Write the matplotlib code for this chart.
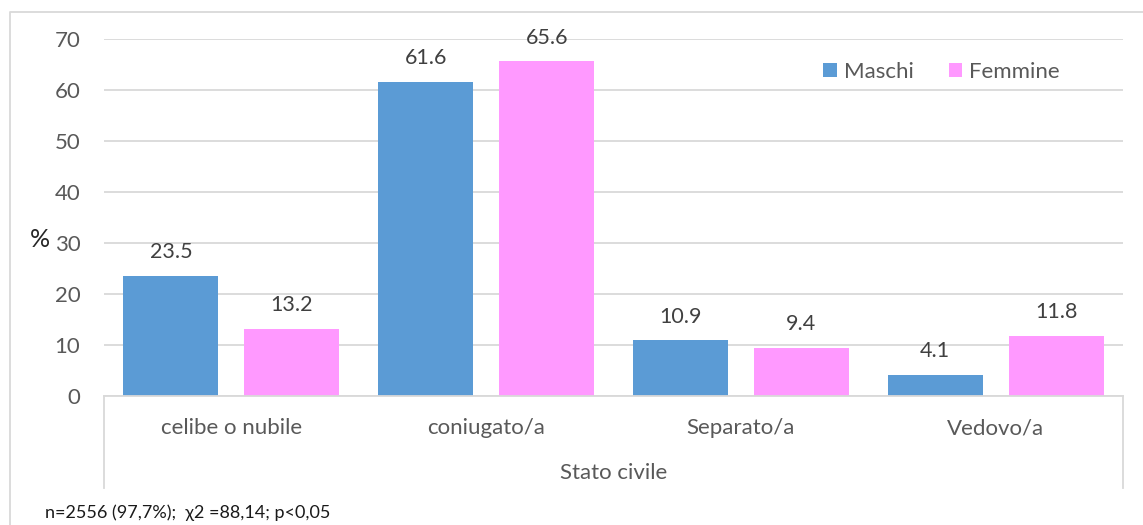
import matplotlib
matplotlib.use("Agg")
import matplotlib.pyplot as plt
import numpy as np
from matplotlib.lines import Line2D

categories = ["celibe o nubile", "coniugato/a", "Separato/a", "Vedovo/a"]
maschi = [23.5, 61.6, 10.9, 4.1]
femmine = [13.2, 65.6, 9.4, 11.8]
series_names = ["Maschi", "Femmine"]
yticks = [0, 10, 20, 30, 40, 50, 60, 70]

BLUE = "#5B9BD5"
PINK = "#FF99FF"
TXT = "#595959"
VAL = "#404040"
GRID = "#D9D9D9"
FONT = "Lato"

plt.rcParams['font.family'] = [FONT, 'DejaVu Sans']

fig = plt.figure(figsize=(11.43, 5.25), dpi=100)
ax = fig.add_axes([104/1143, 1-396/525, (1123-104)/1143, (396-39)/525])

x = np.arange(len(categories))
w = 0.373
off = 0.2375
b1 = ax.bar(x - off, maschi, w, color=BLUE, label=series_names[0], zorder=3)
b2 = ax.bar(x + off, femmine, w, color=PINK, label=series_names[1], zorder=3)

for bars, vals in ((b1, maschi), (b2, femmine)):
    for r, v in zip(bars, vals):
        ax.annotate(f"{v:.1f}", (r.get_x() + r.get_width()/2, v), xytext=(0, 10),
                    textcoords="offset points", ha="center", va="bottom",
                    fontsize=15.5, color=VAL, clip_on=False)

ax.set_xlim(-0.5, len(categories) - 0.5)
ax.set_ylim(0, 70)
ax.set_yticks(yticks)
ax.set_yticklabels([str(t) for t in yticks])
ax.set_xticks(x)
ax.set_xticklabels(categories)
ax.tick_params(axis="y", length=0, pad=17, labelsize=16, labelcolor=TXT)
ax.tick_params(axis="x", length=0, pad=16, labelsize=16, labelcolor=TXT)
ax.grid(axis="y", color=GRID, linewidth=1.3, zorder=0)
for s in ("top", "right", "left"):
    ax.spines[s].set_visible(False)
ax.spines["bottom"].set_color(GRID)
ax.spines["bottom"].set_linewidth(1.3)
ax.spines["bottom"].set_zorder(4)

# category area separators
ext = -(488-396)/(396-39)
for xa in (0, 1):
    ax.plot([xa, xa], [0, ext], transform=ax.transAxes, color=GRID, lw=1.3, clip_on=False)

ax.text(0.5, -(473-396)/(396-39), "Stato civile", transform=ax.transAxes, ha="center", va="center",
        fontsize=16, color=TXT)

fig.text(30/1143, 1-240/525, "%", fontsize=18, color="#262626", ha="left", va="center")
fig.text(45/1143, 1-513/525, "n=2556 (97,7%);  χ2 =88,14; p<0,05", fontsize=13,
         color="#1a1a1a", ha="left", va="center")

leg = ax.legend(loc="upper right", bbox_to_anchor=(1069/1143, 1-53/525), bbox_transform=fig.transFigure,
                ncol=2, frameon=False, fontsize=16, handlelength=0.6, handleheight=0.6,
                columnspacing=1.6, handletextpad=0.32, labelcolor=TXT, borderaxespad=0)

# outer chart border
fig.add_artist(Line2D([10/1143, 10/1143, 1.0], [0.0, 1-12/525, 1-12/525],
                      transform=fig.transFigure, color=GRID, lw=1.3))

fig.savefig("out.png", dpi=100)
